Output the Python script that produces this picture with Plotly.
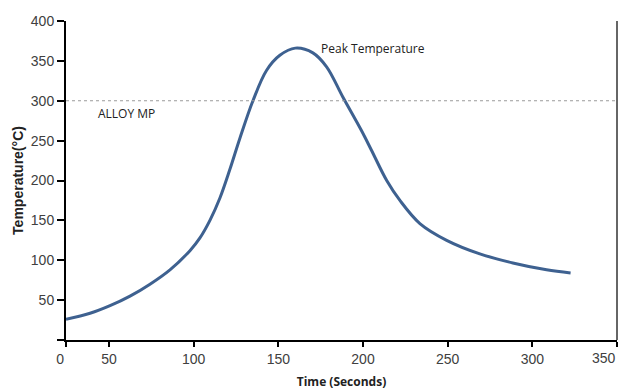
import plotly.graph_objects as go

# Reflow temperature profile
time_s = [24.6, 38.8, 50.6, 62.4, 74.2, 86.0, 97.8, 103.7, 109.6, 115.5, 121.4, 127.3,
          135.0, 143.0, 150.9, 160.0, 170.4, 178.5, 188.0, 199.0,
          205.0, 214.0, 221.8, 233.6, 249.4, 269.0, 288.5, 308.4, 322.6]
temp_c = [26, 33.5, 43, 55, 70, 88, 112, 128, 150, 178, 214, 253,
          300, 338, 357, 366, 360, 342.5, 305, 263,
          238, 200, 175, 146, 125, 108, 96.6, 88, 84]

alloy_mp = 300
x_tick_vals = [24.6, 50, 100, 150, 200, 250, 300, 350]
x_tick_text = ["0\u00a0\u00a0\u00a0", "50", "100", "150", "200", "250", "300", ""]
x_last_label = "350"
y_tick_vals = [0, 50, 100, 150, 200, 250, 300, 350, 400]
y_tick_text = ["", "50", "100", "150", "200", "250", "300", "350", "400"]

fig = go.Figure()
fig.add_trace(go.Scatter(
    x=time_s, y=temp_c, mode="lines",
    line=dict(color="#3e6190", width=3, shape="spline", smoothing=1.0),
    hoverinfo="skip", showlegend=False,
))

fig.add_shape(type="line", xref="paper", x0=0, x1=1, yref="y", y0=alloy_mp, y1=alloy_mp,
              line=dict(color="#9a9a9a", width=1, dash="dot"))
fig.add_shape(type="line", xref="paper", x0=1, x1=1, yref="paper", y0=0, y1=1,
              line=dict(color="#333333", width=1.5))

fig.add_annotation(x=42.3, y=284, text="ALLOY MP", showarrow=False, xanchor="left",
                   font=dict(family="Open Sans", size=12, color="#222222"))
fig.add_annotation(x=174, y=366, text="Peak Temperature", showarrow=False, xanchor="left",
                   font=dict(family="Open Sans", size=12, color="#222222"))
fig.add_annotation(x=x_tick_vals[-1], xref="x", y=0, yref="paper", text=x_last_label,
                   showarrow=False, xanchor="right", yanchor="top", xshift=1, yshift=-8,
                   font=dict(family="Liberation Sans", size=14, color="#404040"))

fig.update_layout(
    width=619, height=390,
    margin=dict(l=66, r=2, t=21, b=50, autoexpand=False),
    paper_bgcolor="white", plot_bgcolor="white",
    xaxis=dict(range=[24.6, 350], tickvals=x_tick_vals, ticktext=x_tick_text,
               showgrid=False, zeroline=False, showline=True, linecolor="black", linewidth=2,
               ticks="outside", ticklen=5, tickwidth=2, tickcolor="black", automargin=False,
               tickfont=dict(family="Liberation Sans", size=14, color="#404040"),
               title=dict(text="<b>Time (Seconds)</b>", standoff=12,
                          font=dict(family="Open Sans", size=12, color="#222222"))),
    yaxis=dict(range=[0, 400], tickvals=y_tick_vals, ticktext=y_tick_text,
               showgrid=False, zeroline=False, showline=True, linecolor="black", linewidth=2,
               ticks="outside", ticklen=7, tickwidth=2, tickcolor="black", automargin=False,
               tickfont=dict(family="Liberation Sans", size=14, color="#404040"),
               title=dict(text="<b>Temperature(°C)</b>", standoff=4,
                          font=dict(family="Liberation Sans", size=14, color="#222222"))),
)

fig.write_html("out.html", config={"displayModeBar": False},
               post_script="document.body.style.margin='0';document.body.style.overflow='hidden';")
